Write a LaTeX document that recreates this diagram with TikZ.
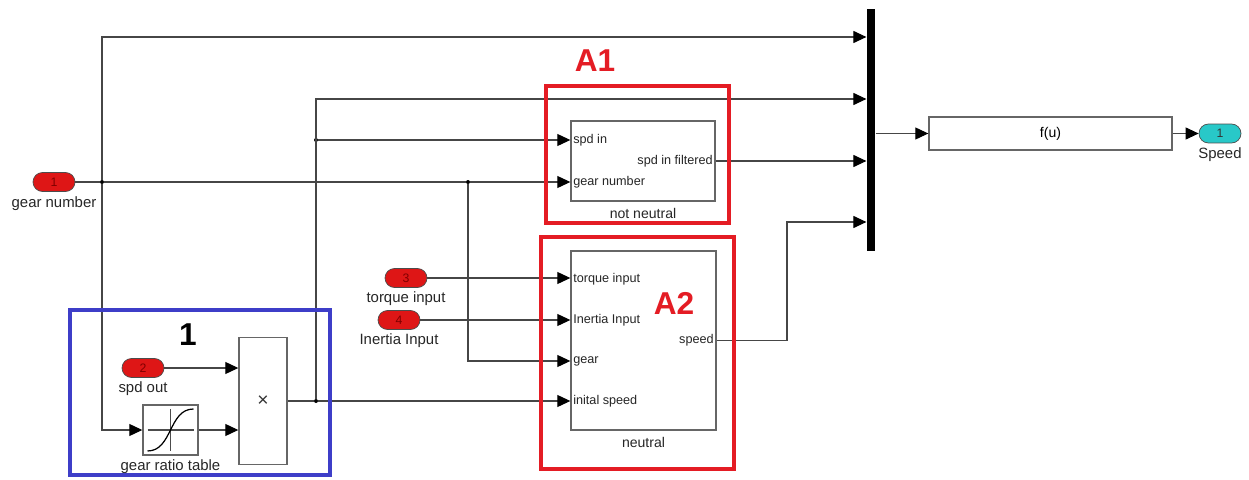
\documentclass[tikz,border=0pt]{standalone}
\usepackage{fontspec}
\setmainfont{Liberation Sans}
\usetikzlibrary{arrows.meta}
\definecolor{portred}{RGB}{222,22,22}
\definecolor{portcyan}{RGB}{40,200,200}
\definecolor{boxred}{RGB}{228,28,36}
\definecolor{boxblue}{RGB}{62,62,200}
\definecolor{wiregray}{RGB}{70,70,70}

\begin{document}
\begin{tikzpicture}[x=0.02cm,y=-0.02cm,
  wire/.style={draw=wiregray, line width=0.6pt},
  sig/.style={wire, -{Triangle[length=0.26cm,width=0.24cm,color=black,fill=black]}},
  inport/.style={draw=black!70, fill=portred, rounded corners=0.19cm,
    minimum width=0.84cm, minimum height=0.38cm, inner sep=0pt,
    font=\fontsize{7}{8}\selectfont, text=red!50!black},
  blk/.style={draw=black!60, line width=0.8pt, fill=white, inner sep=0pt},
  lbl/.style={font=\fontsize{8.5}{10}\selectfont, text=black!85},
  port/.style={font=\fontsize{7.2}{8}\selectfont, inner sep=1.5pt, text=black!85},
  hilite/.style={line width=2.8pt},
  tag/.style={font=\fontsize{18}{20}\bfseries\selectfont},
  dot/.style={circle, fill=black, inner sep=0pt, minimum size=0.08cm}]
  \useasboundingbox (0,0) rectangle (1249,480);

  %% Inports
  \node[inport] (in1) at (54,182) {1};
  \node[lbl] (in1lbl) at (54,204) {gear number};
  \node[inport] (in2) at (143,368) {2};
  \node[lbl] (in2lbl) at (143,389) {spd out};
  \node[inport] (in3) at (406,278) {3};
  \node[lbl] (in3lbl) at (406,299) {torque input};
  \node[inport] (in4) at (399,320) {4};
  \node[lbl] (in4lbl) at (399,341) {Inertia Input};

  %% Gear ratio table (lookup)
  \node[blk, minimum width=1.1cm, minimum height=1.0cm] (grt) at (170.5,430) {};
  \node[lbl] (grtlbl) at (170.5,467) {gear ratio table};
  \draw[black!70, line width=0.6pt] (grt.center) ++(-23,0) -- ++(46,0);
  \draw[black!70, line width=0.6pt] (grt.center) ++(0,-21) -- ++(0,42);
  \draw[black, line width=0.7pt] (grt.center) ++(-23,21)
    .. controls ++(25,0) and ++(-25,0) .. ++(46,-42);

  %% Product
  \node[blk, minimum width=0.96cm, minimum height=2.54cm,
    font=\fontsize{11}{12}\selectfont, text=black!80] (mult) at (263,401) {×};

  %% Subsystems
  \node[blk, minimum width=2.88cm, minimum height=1.6cm] (nn) at (643,161) {};
  \node[lbl, font=\fontsize{8}{9}\selectfont] (nnlbl) at (643,213) {not neutral};
  \node[port, anchor=west] (nnp1) at (nn.west |- 0,140) {spd in};
  \node[port, anchor=west] (nnp2) at (nn.west |- 0,182) {gear number};
  \node[port, anchor=east] (nnp3) at (nn.east) {spd in filtered};

  \node[blk, minimum width=2.9cm, minimum height=3.58cm] (neu) at (643.5,340.5) {};
  \node[lbl, font=\fontsize{8}{9}\selectfont] (neulbl) at (643.5,442) {neutral};
  \node[port, anchor=west] (neup1) at (neu.west |- 0,279) {torque input};
  \node[port, anchor=west] (neup2) at (neu.west |- 0,320) {Inertia Input};
  \node[port, anchor=west] (neup3) at (neu.west |- 0,361) {gear};
  \node[port, anchor=west] (neup4) at (neu.west |- 0,401) {inital speed};
  \node[port, anchor=east] (neup5) at (neu.east) {speed};

  %% Mux, function, outport
  \node[fill=black, minimum width=0.17cm, minimum height=4.86cm, inner sep=0pt] (mux) at (871,130) {};
  \node[blk, minimum width=4.86cm, minimum height=0.66cm,
    font=\fontsize{8}{9}\selectfont] (fu) at (1050.5,133.5) {f(u)};
  \node[inport, fill=portcyan, text=black!80] (out1) at (1220,133.5) {1};
  \node[lbl] (out1lbl) at (1220,155) {Speed};

  %% Mux inputs and branch points
  \coordinate (m1) at (mux.west |- 0,37);
  \coordinate (m2) at (mux.west |- 0,99);
  \coordinate (m3) at (mux.west |- nn.east);
  \coordinate (m4) at (mux.west |- 0,222);
  \coordinate (bend) at (787,222);
  \node[dot] (j1) at (102,182) {};
  \node[dot] (j2) at (468,182) {};
  \node[dot] (j3) at (316,401) {};
  \node[dot] (j4) at (316,140) {};

  %% Wires
  \draw[wire] (in1) -- (j1);
  \draw[wire] (j1) -- (j2);
  \draw[sig] (j2) -- (nn.west |- j2);
  \draw[sig] (j2) |- (neu.west |- neup3);
  \draw[sig] (j1) |- (m1);
  \draw[sig] (j1) |- (grt.west);
  \draw[sig] (grt) -- (mult.west |- grt);
  \draw[sig] (in2) -- (mult.west |- in2);
  \draw[wire] (mult.east) -- (j3);
  \draw[sig] (j3) -- (neu.west |- j3);
  \draw[sig] (j3) |- (m2);
  \draw[sig] (j4) -- (nn.west |- j4);
  \draw[sig] (in3) -- (neu.west |- in3);
  \draw[sig] (in4) -- (neu.west |- in4);
  \draw[sig] (nn.east) -- (m3);
  \draw[sig] (neu.east) -| (bend) -- (m4);
  \draw[sig] (mux.east |- fu.west) -- (fu.west);
  \draw[sig] (fu) -- (out1);

  %% Highlight boxes
  \draw[hilite, boxblue] (70,310) rectangle (330,475);
  \draw[hilite, boxred] (546,86) rectangle (729,223);
  \draw[hilite, boxred] (541,237) rectangle (734,469);
  \node[tag] (t1) at (188,335) {1};
  \node[tag, boxred] (tA1) at (595,61) {A1};
  \node[tag, boxred] (tA2) at (674,303) {A2};
\end{tikzpicture}
\end{document}
